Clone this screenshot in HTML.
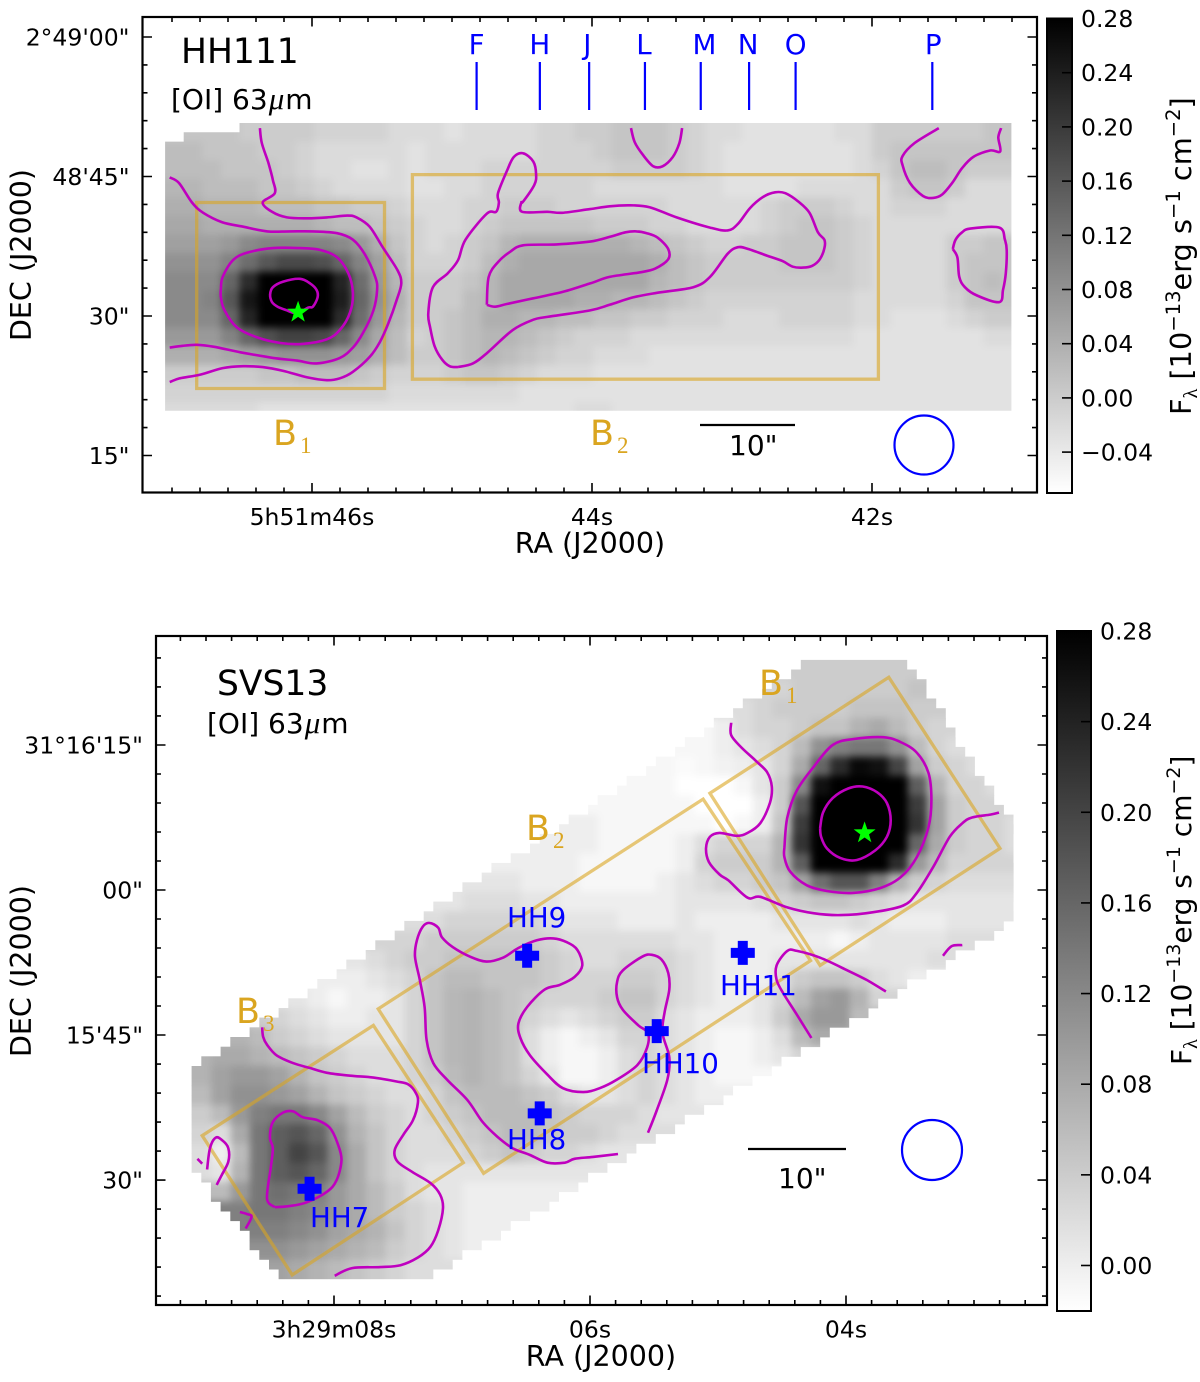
<!DOCTYPE html>
<html lang="en">
<head>
<meta charset="utf-8">
<title>HH111 and SVS13 [OI] 63 micron maps</title>
<style>
html,body{margin:0;padding:0;background:#fff}
svg{display:block;font-family:"DejaVu Sans","Liberation Sans",sans-serif}
.serif{font-family:"Liberation Serif",serif}
.gold{fill:#daa520}
.blue{fill:#0000ff}
</style>
</head>
<body>
<svg id="figure" xmlns="http://www.w3.org/2000/svg" width="1200" height="1382" viewBox="0 0 1200 1382">
  <defs>
    <filter id="smooth" filterUnits="userSpaceOnUse" x="0" y="0" width="1200" height="1382" color-interpolation-filters="sRGB">
      <feGaussianBlur stdDeviation="3.6"/>
    </filter>
    <linearGradient id="grayTop" x1="0" y1="0" x2="0" y2="1">
      <stop offset="0" stop-color="#000"/><stop offset="1" stop-color="#fff"/>
    </linearGradient>
    <clipPath id="clip-hh111"></clipPath>
    <clipPath id="clip-svs13"></clipPath>
  </defs>

  <g id="panel-hh111">
    <g id="hh111-map" clip-path="url(#clip-hh111)"><g id="hh111-cells" filter="url(#smooth)"></g></g>
    <g id="hh111-marks"></g>
    <g id="hh111-axes"></g>
    <text x="181" y="63" font-size="34.5">HH111</text>
    <text x="171" y="109" font-size="28">[OI] 63<tspan class="serif" font-style="italic" font-size="31" dx="1">μ</tspan><tspan dx="1">m</tspan></text>
    <text class="gold" x="273" y="445" font-size="35">B<tspan class="serif" dx="3" dy="8" font-size="23">1</tspan></text>
    <text class="gold" x="590" y="445" font-size="35">B<tspan class="serif" dx="3" dy="8" font-size="23">2</tspan></text>
    <line x1="700" y1="425" x2="795" y2="425" stroke="#000" stroke-width="2.2"/>
    <text x="729" y="455" font-size="28">10"</text>
    <circle cx="924" cy="445" r="29.5" fill="none" stroke="#0000ff" stroke-width="2.2"/>
    <text x="590" y="553" font-size="28.5" text-anchor="middle">RA (J2000)</text>
    <text transform="translate(31,255) rotate(-90)" font-size="28.5" text-anchor="middle">DEC (J2000)</text>
    <rect x="1047" y="18.5" width="25" height="474.5" fill="url(#grayTop)" stroke="#000" stroke-width="2"/>
    <g id="hh111-colorbar-ticks"></g>
    <text transform="translate(1191,415) rotate(-90)" font-size="28.8">F<tspan class="serif" font-size="20" dy="6">λ</tspan><tspan dy="-6"> [10</tspan><tspan font-size="19.5" dy="-11">−13</tspan><tspan dy="11">erg s</tspan><tspan font-size="19.5" dy="-11">−1</tspan><tspan dy="11"> cm</tspan><tspan font-size="19.5" dy="-11">−2</tspan><tspan dy="11">]</tspan></text>
  </g>

  <g id="panel-svs13">
    <g id="svs13-map" clip-path="url(#clip-svs13)"><g id="svs13-cells" filter="url(#smooth)"></g></g>
    <g id="svs13-marks"></g>
    <g id="svs13-axes"></g>
    <text x="217" y="695" font-size="34.5">SVS13</text>
    <text x="207" y="733" font-size="28">[OI] 63<tspan class="serif" font-style="italic" font-size="31" dx="1">μ</tspan><tspan dx="1">m</tspan></text>
    <text class="gold" x="759" y="695" font-size="35">B<tspan class="serif" dx="3" dy="8" font-size="23">1</tspan></text>
    <text class="gold" x="526" y="840" font-size="35">B<tspan class="serif" dx="3" dy="8" font-size="23">2</tspan></text>
    <text class="gold" x="236" y="1023" font-size="35">B<tspan class="serif" dx="3" dy="8" font-size="23">3</tspan></text>
    <text class="blue" x="507" y="927" font-size="27.7">HH9</text>
    <text class="blue" x="507" y="1149" font-size="27.7">HH8</text>
    <text class="blue" x="642" y="1073" font-size="27.7">HH10</text>
    <text class="blue" x="720" y="995" font-size="27.7">HH11</text>
    <text class="blue" x="310" y="1227" font-size="27.7">HH7</text>
    <line x1="748" y1="1149" x2="846" y2="1149" stroke="#000" stroke-width="2.2"/>
    <text x="778" y="1188" font-size="28">10"</text>
    <circle cx="932" cy="1150" r="30" fill="none" stroke="#0000ff" stroke-width="2.2"/>
    <text x="601" y="1366" font-size="28.5" text-anchor="middle">RA (J2000)</text>
    <text transform="translate(31,971) rotate(-90)" font-size="28.5" text-anchor="middle">DEC (J2000)</text>
    <rect x="1057" y="631" width="34" height="680" fill="url(#grayTop)" stroke="#000" stroke-width="2"/>
    <g id="svs13-colorbar-ticks"></g>
    <text transform="translate(1191,1065) rotate(-90)" font-size="28">F<tspan class="serif" font-size="20" dy="6">λ</tspan><tspan dy="-6"> [10</tspan><tspan font-size="19" dy="-11">−13</tspan><tspan dy="11">erg s</tspan><tspan font-size="19" dy="-11">−1</tspan><tspan dy="11"> cm</tspan><tspan font-size="19" dy="-11">−2</tspan><tspan dy="11">]</tspan></text>
  </g>
</svg>

<script>
// ---------- HH111 data (flux in 0.01 x 10^-13 units, map cells 2 arcsec) ----------
const hh111Flux = [
[1,1,1,1,0,0,0,0,-1,-1,-1,-1,-2,-2,-2,-3,-2,-2,-2,-2,-1,-1,0,0,1,1,1,0,-1,-2,-2,-3,-3,-3,-3,-3,-2,-2,0,0,0,0,0,0,1,1],
[2,2,1,1,1,0,0,-1,-2,-2,-2,-2,-2,-3,-2,-2,-2,-2,-2,-2,-1,-1,-1,0,1,1,1,0,-1,-2,-3,-3,-3,-3,-3,-3,-3,-2,0,1,1,1,1,1,1,1],
[2,2,2,1,1,1,0,-1,-2,-2,-3,-3,-2,-3,-2,-2,-2,-1,-1,-1,-1,-1,-1,-1,0,0,0,0,-1,-2,-3,-3,-3,-3,-3,-3,-3,-2,-1,1,2,2,1,0,0,0],
[3,3,2,2,2,1,1,0,-1,-2,-2,-2,-2,-3,-3,-2,-2,-1,-1,-1,-1,-1,-1,-2,-2,-2,-2,-2,-2,-2,-3,-3,-3,-3,-2,-2,-2,-2,-2,0,1,1,0,-2,-2,-2],
[4,4,3,3,3,2,2,2,1,1,0,0,-1,-2,-2,-2,-1,-1,0,0,0,-1,-1,-1,-1,-1,-1,-2,-2,-2,-2,-2,-1,0,0,0,-1,-2,-2,-1,-1,-1,-2,-2,-2,-2],
[5,5,4,4,4,4,4,4,3,2,2,1,0,-1,-2,-2,-1,0,1,1,1,1,1,0,0,0,-1,-1,-2,-2,-2,-2,-1,0,1,1,0,-1,-2,-2,-2,-2,-2,-2,-2,-2],
[6,6,6,7,9,10,10,10,10,9,7,4,1,-1,-2,-1,0,1,3,4,4,4,4,4,4,3,2,1,0,-1,-1,0,0,1,1,1,0,-1,-2,-2,-2,-2,0,0,1,1],
[8,8,8,10,13,16,18,18,17,14,10,6,2,-1,-1,-1,0,2,4,5,5,5,5,5,5,5,4,2,1,0,0,0,0,1,1,1,0,-1,-2,-2,-2,-2,0,1,1,1],
[9,9,9,14,22,28,31,31,30,23,13,7,3,0,0,0,1,3,5,5,5,5,5,5,5,5,3,2,1,0,0,0,0,0,0,0,0,-1,-2,-2,-2,-2,0,1,2,1],
[9,9,10,16,25,30,32,32,31,24,14,8,4,0,0,0,2,3,5,5,5,5,4,4,3,3,2,1,0,-1,-1,-1,-1,-1,-1,-1,-1,-2,-2,-2,-2,-2,-1,1,1,1],
[9,9,9,14,23,29,31,31,30,22,13,7,3,0,0,1,2,4,4,3,3,2,2,1,1,0,0,-1,-1,-1,-2,-2,-2,-1,-1,-1,-1,-2,-2,-3,-3,-3,-2,-1,0,0],
[7,7,7,10,14,17,19,19,18,14,9,5,2,-1,0,1,2,3,3,2,1,0,-1,-1,-1,-2,-2,-2,-2,-2,-2,-2,-2,-2,-2,-2,-2,-3,-3,-3,-3,-3,-3,-3,-2,-2],
[4,4,4,5,6,7,8,8,8,7,6,4,2,0,0,1,2,3,2,1,0,-1,-1,-2,-2,-2,-3,-3,-3,-3,-3,-3,-3,-3,-3,-3,-3,-3,-3,-3,-3,-3,-3,-3,-3,-3],
[0,0,0,0,0,1,1,2,2,2,1,0,-1,-1,-1,0,1,1,0,-1,-2,-2,-2,-3,-3,-3,-3,-3,-3,-3,-3,-3,-3,-3,-3,-3,-3,-3,-3,-3,-3,-3,-3,-3,-3,-3],
[-1,-1,-1,-1,-1,-1,-1,-1,-1,-1,-1,-1,-2,-2,-2,-2,-2,-2,-2,-3,-3,-3,-3,-3,-3,-3,-3,-3,-3,-3,-3,-3,-3,-3,-3,-3,-3,-3,-3,-3,-3,-3,-3,-3,-3,-3],
[-2,-2,-2,-2,-2,-3,-3,-3,-3,-3,-3,-3,-3,-3,-3,-3,-3,-3,-3,-3,-3,-3,-2,-2,-3,-3,-3,-3,-3,-3,-3,-3,-3,-3,-3,-3,-3,-3,-3,-3,-3,-3,-3,-3,-3,-3]
];
// contour vertices: [arcsec west of the 46s meridian, arcsec north of the 30" parallel]
const hh111ContourOuter = [[-5.6,20.2],[-5.4,18.6],[-4.7,16.5],[-4.2,14.6],[-4,13.2],[-5.3,12.2],[-4.3,11.2],[-2.7,10.6],[-.5,10.5],[1.6,10.6],[3.8,10.8],[4.8,10.6],[6.2,9.6],[7.6,7.4],[9.2,4.9],[9.6,3.5],[9.1,1.7],[8.2,-.8],[7.3,-2.8],[6.2,-4.4],[4.4,-6],[3,-6.7],[1.6,-6.9],[-.5,-6.6],[-3.1,-5.9],[-5.3,-5.5],[-7.4,-5.4],[-9.6,-5.6],[-12,-6.3],[-14.2,-6.7],[-15.3,-7.1]];
const hh111ContourMiddle = [[-15.3,14.9],[-14.3,14.3],[-12.9,12.2],[-11.7,11.1],[-9.7,10.1],[-7.4,9.6],[-4.8,9.1],[-2.4,9.1],[.1,9.1],[2.7,8.9],[4.4,8.2],[5.7,6.6],[6.8,4.2],[7,2.8],[6.6,.6],[5.5,-1.8],[4.4,-3.4],[3,-4.5],[.5,-5.1],[-1.6,-4.8],[-4.2,-4.5],[-7.7,-3.9],[-10.6,-3.3],[-12.4,-3.1],[-13.9,-3.2],[-15.3,-3.4]];
const hh111ContourCore = [[-9.8,3],[-9.6,4.2],[-8.5,6],[-7,6.8],[-4.2,7.3],[-1.3,7.3],[.9,7.1],[2.7,6.3],[3.9,4.6],[4.4,2.5],[4.1,.4],[3,-1.5],[1.6,-2.5],[-1,-3],[-3.4,-2.9],[-5.9,-2.3],[-8.1,-1.2],[-9.4,.6],[-9.8,2],[-9.8,3]];
const hh111ContourPeak = [[-2.7,.6],[-3.7,1],[-4.3,1.5],[-4.5,2.3],[-4.2,3.1],[-3.1,3.7],[-1.3,4],[-.2,3.5],[.5,2.8],[.6,2],[.1,1],[-.4,.9],[-1.6,.3],[-2.7,.6]];
const hh111ContourJet = [[15.7,-5.5],[14.8,-5.4],[14,-4.7],[13.2,-3.3],[12.7,-1.2],[12.5,.3],[13,3.1],[14.6,4.6],[15.7,6],[16.5,8.2],[18.8,11],[19.8,11.2],[20.1,12.2],[20,13.2],[21,15.7],[21.7,17.1],[22.7,17.5],[23.8,16.6],[24.1,15.2],[23.9,14.1],[22.7,12.3],[22.5,12.2],[22.6,11.2],[25.3,11.2],[26.9,11.1],[29.9,11.5],[32,11.8],[34.2,11.9],[36.3,11.7],[39.2,10.6],[42.8,9.5],[44.7,9.2],[45.8,9.9],[47.1,11.6],[48.5,12.8],[49.8,13.3],[50.9,13.2],[52.3,12.3],[53.5,11.1],[54.4,9],[55.1,8.2],[55.1,7.3],[54.6,6.1],[53.8,5.4],[52.8,5.2],[51.7,5.3],[50.6,5.9],[48.9,6.5],[46.9,7.2],[45.8,7.4],[44.7,6.7],[42.8,4.2],[41,3.1],[37.1,2.5],[34.5,2],[32,1.2],[29.9,.6],[25.3,-.1],[23.8,-.4],[21.6,-1.5],[18.8,-4],[17.3,-5.1],[15.7,-5.5]];
const hh111ContourJetInner = [[18.8,1.2],[19,4.2],[20,5.8],[21.3,6.9],[22.7,7.6],[26.3,7.7],[29.9,8],[32,8.5],[33.7,9],[34.9,9.1],[36,8.9],[37.2,8.4],[38.3,7.2],[38.3,6.1],[36.9,5.1],[35.3,4.7],[32,4.2],[29.9,3.5],[27,2.6],[23.8,1.9],[21,1.3],[19.7,1],[18.8,1.2]];
const hh111ContourTop = [[34.3,20.2],[34.7,18.7],[35.6,17.3],[36.7,16.1],[37.7,16.1],[38.8,17.1],[39.5,18.6],[39.8,20.2]];
const hh111ContourEast = [[67.4,20.2],[64.8,18.6],[63.5,17.2],[63.5,16.2],[64.3,14.3],[65.7,12.9],[66.8,12.7],[67.8,13.1],[68.9,14.4],[69.9,15.9],[71.1,17.1],[72.9,17.8],[74,17.7],[73.8,19.2],[74.1,20.2]];
const hh111ContourBlob = [[68.9,7.2],[69.2,8.2],[69.9,9],[70.8,9.4],[73.9,9.5],[74.5,8.2],[74.7,7.1],[74.6,4.6],[74.3,2.8],[73.9,1.5],[71.5,2.2],[70.2,3.1],[69.6,4.2],[69.4,6.3],[68.9,7.2]];
const hh111Contours = [hh111ContourOuter,hh111ContourMiddle,hh111ContourCore,hh111ContourPeak,hh111ContourJet,hh111ContourJetInner,hh111ContourTop,hh111ContourEast,hh111ContourBlob];
const hh111BoxB1 = [[-12.4,12.2],[7.8,12.2],[7.8,-7.8],[-12.4,-7.8]];
const hh111BoxB2 = [[10.8,15.2],[60.9,15.2],[60.9,-6.8],[10.8,-6.8]];
const hh111Boxes = [hh111BoxB1,hh111BoxB2];
const hh111Star = [-1.5,.4];
const hh111Footprint = [[-15.8,18.7],[-13.8,18.7],[-13.8,19.7],[-7.7,19.7],[-7.7,20.75],[75.4,20.75],[75.4,-10.2],[-15.8,-10.2]];
const hh111KnotNames = ["F","H","J","L","M","N","O","P"];
const hh111KnotOffsets = [17.7,24.5,29.8,35.8,41.8,47,52,66.7];
const hh111KnotLabelOffsets = [17.7,24.5,29.6,35.7,42.2,46.9,52,66.8];
const hh111RaTicks = [46,44,42];
const hh111RaLabels = ["5h51m46s","44s","42s"];
const hh111DecTicks = [30,15,0,-15];
const hh111DecLabels = ["2°49'00\"","48'45\"","30\"","15\""];
const hh111BarTicks = [0.24,0.20,0.16,0.12,0.08,0.04,0.00,-0.04];
const hh111BarLabels = ["0.24","0.20","0.16","0.12","0.08","0.04","0.00","−0.04"];

// ---------- SVS13 data ----------
const svs13FirstColumn = [31,30,28,26,25,23,21,20,19,17,16,14,13,11,10,8,6,5,3,2,0,0,0,0,0,0,0,1,2,3,3,4];
const svs13Flux = [
[4,4,4,4,4,4],
[3,4,4,4,4,4,4,5],
[2,3,4,4,4,4,5,5,5,4,4],
[-1,0,2,3,3,4,5,5,7,8,6,4,3],
[-1,-1,0,1,2,3,6,11,13,14,14,11,6,3,2],
[-1,-1,-1.5,-1,-.5,0,1,3,8,16,23,27,26,20,9,4,3,2],
[-1,-1,-1,-1,-2,-2,-2,-1,1,4,12,26,31,32,31,28,17,7,3,3,2],
[-1,-1,-1,-1,-1,-1,-2,-2,-2,0,4,18,31,33,33,33,31,21,9,4,3,3],
[0,0,-1,-1,-1,-1,-1,-1,-2,-1,0,5,21,32,33,33,33,32,22,9,4,3,3,2],
[0,0,0,0,-1,-1,-1,-1,0,2,3,3,3,7,22,32,33,33,33,30,16,8,4,3,3,2],
[0,0,0,0,-1,-1,-1,-1,-1,0,3,4,4,4,7,17,29,32,32,31,23,10,6,3,3,3,3],
[1,1,1,0,0,0,-1,-1,-1,-1,0,1,2,3,3,4,5,9,15,18,18,13,7,4,3,2,2,2,2],
[1,2,2,2,1,1,0,0,0,0,0,0,1,1,1,1,2,3,4,5,5,4,3,2,1,1,1,1,1,1],
[2,2,3,3,3,3,3,2,1,1,1,0,0,0,1,0,0,0,0,1,1,1,1,2,1,0,0,0,1,1,1,1],
[3,3,4,4,4,4,4,4,3,2,2,2,2,2,2,1,1,0,0,0,0,0,0,-1,0,1,1,1,1,2],
[1,2,3,4,4,5,5,5,5,5,4,3,2,2,3,3,3,2,1,0,0,0,1,1,1,1,1,1,1,1,2],
[0,0,0,1,2,3,5,6,6,5,5,5,4,3,3,3,4,4,3,2,1,0,0,0,2,4,5,5,4,2,1,0],
[1,0,-1,0,0,1,3,5,6.5,7,6,5,4,3,3,3,4,5,5,3,2,1,0,0,1,3,6,9,10,7,3],
[4,3,2,1,0,0,1,1,3,5,6.5,7,6,5,3,2,1,2,3,4,4,2,1,0,0,0,1,4,8,10,10,6],
[7,6,4,3,2,1,1,1,1,3,5,6.5,7,6,5,2,0,-1,0,1,3,3,2,1,0,-1,-1,0,2,6,8,8],
[7,8,8,7,6,5,4,3,2,2,2,3,5,6.5,7,6,5,2,0,-1,-1,0,2,3,2,1,0,-1,-1,0,1,3],
[7,9,10,10,9,7,5,4,3,2,2,3,4,6,7,6,5,3,1,-1,-1,0,2,3,2,1,0,-1],
[6,9,11,11,10,9,7,5,4,3,2,2,3,5,6,6,6,5,4,2,1,1,2,3,2,1,0],
[4,6,10,13,14,14,12,9,6,4,3,2,3,4,5,6,6,6,5,4,3,3,3,2,1],
[3,2,8,14,17,18,16,11,7,5,3,2,2,3,4,5,6,6,5,4,4,3,2],
[2,0,6,14,17,20,18,12,8,5,3,2,2,2,3,4,5,4,3,3,2,1],
[2,1,7,14,17,18,16,12,8,5,3,2,1,1,1,1,1,1,1],
[6,10,14,15,14,13,10,8,6,4,2,1,1,0,0,0,0],
[13,14,14,13,12,10,8,6,4,3,2,1,0,0,0],
[13,13,12,11,9,8,7,5,3,2,1,0,0],
[11,11,10,9,8,7,6,4,3,2,1,0],
[9,8,7,6,5,4,3,2]
];
// contour vertices: [arcsec west of the 06s meridian, arcsec north of the 16'00" parallel]
const svs13ContourB3 = [[-33.9,-14.2],[-33.8,-15.2],[-33.4,-16],[-32.4,-17.1],[-30.7,-17.9],[-29,-18.4],[-27.2,-18.9],[-24.8,-19.2],[-22.4,-19.4],[-20,-19.8],[-18.8,-20.1],[-18,-21],[-17.8,-22],[-18.3,-23.8],[-19.3,-25.3],[-20.2,-26.9],[-19.9,-28.1],[-18.3,-29.2],[-16.5,-30.3],[-15.5,-31.5],[-15.2,-32.9],[-15.7,-35.2],[-16.5,-36.9],[-17.8,-38],[-19.6,-38.8],[-21.7,-39],[-24.6,-39.1],[-26.4,-39.9]];
const svs13ContourHH7 = [[-32.6,-32.8],[-33.4,-31.9],[-33,-28.6],[-32.8,-26.7],[-33.1,-25.6],[-32.8,-24],[-31.7,-23],[-30.7,-22.9],[-29.7,-23.5],[-28.2,-23.8],[-26.9,-24.6],[-26.1,-26.2],[-25.7,-27.9],[-26.2,-30],[-27.2,-31.2],[-29.3,-32.3],[-31.2,-32.7],[-32.6,-32.8]];
const svs13ContourWest = [[-39.6,-28.9],[-39.3,-26.7],[-38.7,-25.6],[-38,-25.9],[-37.4,-26.7],[-37.4,-28.1],[-38.1,-29.5],[-38.6,-30.5]];
const svs13ContourDash = [[-40.6,-27.8],[-40.1,-28.3]];
const svs13ContourHook = [[-36.2,-33.3],[-35.5,-33.5],[-35,-33.8],[-35.6,-35]];
const svs13ContourCentral = [[2.9,-27.3],[.3,-27.6],[-1.6,-27.8],[-2.6,-28.2],[-4.4,-28.2],[-6.2,-27.4],[-8,-26.7],[-9.6,-25.5],[-11.1,-24],[-12.7,-21.7],[-14.8,-19.6],[-16.2,-17.9],[-16.9,-15.5],[-17.1,-12.1],[-17.6,-9.3],[-18.1,-6.9],[-17.9,-5.2],[-17.3,-3.8],[-16.6,-3.4],[-15.7,-3.9],[-15.3,-4.9],[-14.2,-5.9],[-12.4,-6.9],[-10.7,-7.4],[-9,-7],[-7.4,-6],[-5.5,-5.2],[-3.8,-5],[-2.4,-5.4],[-1.3,-6.2],[-.8,-7.8],[-1.6,-9],[-3.1,-9.8],[-4.7,-10.3],[-6.5,-12.1],[-7.4,-13.8],[-7.2,-15.3],[-6.2,-17.1],[-4.4,-19.1],[-2.8,-20.5],[-.7,-20.9],[1,-20.5],[2.8,-19.6],[4.9,-18.1],[5.9,-16.3],[6,-14.8],[5,-14],[3.4,-12.4],[2.8,-11.1],[2.8,-9.5],[3.4,-8.3],[5.4,-6.9],[6.4,-6.7],[7.4,-7.2],[8.1,-8.6],[8.2,-10.3],[7.7,-12.7],[7.5,-14.8],[8.2,-17.3],[8,-19.6],[6.9,-22.8],[6,-25.1]];
const svs13ContourOuter = [[14.6,17.3],[14.6,16],[15.7,14.7],[17.1,13.4],[18.3,12.2],[18.8,10.7],[18.6,9],[17.6,6.9],[16.3,5.9],[15.2,5.6],[13.4,5.9],[12.4,5.5],[12,4.3],[12.3,2.9],[13.4,1.6],[14.3,1],[16.3,-.8],[17.6,-.7],[20.4,-1.8],[23.1,-2.4],[25.9,-2.6],[29.3,-2.3],[32.4,-1.6],[33.8,-.3],[35.5,2.4],[37.2,5.5],[38.5,6.9],[39.5,7.5],[41.4,7.8],[42.3,8]];
const svs13ContourMiddle = [[20.1,4.4],[20.4,7.5],[21.4,10.3],[23.1,12.7],[25.1,15],[27.2,15.6],[30.3,15.8],[32.1,15.3],[33.8,14.2],[35,12.1],[35.3,9.3],[35,6.5],[33.8,3.4],[32.1,1.3],[30,.2],[27.2,-.3],[24.5,-.1],[22.4,.5],[20.7,1.9],[20.1,3.4],[20.1,4.4]];
const svs13ContourInner = [[23.8,6.4],[24.1,8],[25.1,9.5],[26.7,10.5],[28.2,10.7],[29.7,10.1],[30.7,9],[31.1,7.2],[30.7,5.5],[29.5,4.1],[27.6,3.1],[25.9,3.3],[24.5,4.3],[23.9,5.5],[23.8,6.4]];
const svs13ContourSouth = [[22.9,-15.3],[21.4,-12.9],[20,-10.7],[19.3,-9.3],[19.3,-7.8],[20.4,-6.3],[21.4,-6.3],[23.8,-7],[26.6,-8.3],[28.6,-9.3],[30.6,-10.5]];
const svs13ContourTiny = [[36.5,-6.8],[37.4,-5.8],[38.5,-5.7]];
const svs13Contours = [svs13ContourB3,svs13ContourHH7,svs13ContourWest,svs13ContourDash,svs13ContourHook,svs13ContourCentral,svs13ContourOuter,svs13ContourMiddle,svs13ContourInner,svs13ContourSouth,svs13ContourTiny];
const svs13BoxB1 = [[30.9,22],[42.4,4.3],[23.8,-7.8],[12.4,10]];
const svs13BoxB2 = [[11.7,9.4],[22.8,-7.3],[-11,-29.3],[-21.9,-12.3]];
const svs13BoxB3 = [[-22.4,-14],[-13.1,-28.2],[-30.8,-39.8],[-40.1,-25.4]];
const svs13Boxes = [svs13BoxB1,svs13BoxB2,svs13BoxB3];
const svs13Star = [28.4,5.9];
const svs13KnotNames = ["hh9","hh8","hh10","hh11","hh7"];
const svs13KnotRa = [-6.5,-5.2,6.9,15.8,-29];
const svs13KnotDec = [-6.8,-23.1,-14.6,-6.5,-30.9];
const svs13Footprint = [[-41.2,-18.4],[23,23.8],[32.9,23.8],[43.8,6.6],[43.8,-3.3],[-17.2,-40.3],[-32.2,-40.3],[-41.2,-28.4]];
const svs13RaTicks = [8,6,4];
const svs13RaLabels = ["3h29m08s","06s","04s"];
const svs13DecTicks = [-30,-15,0,15];
const svs13DecLabels = ["30\"","15'45\"","00\"","31°16'15\""];
const svs13BarTicks = [0.24,0.20,0.16,0.12,0.08,0.04,0.00];
const svs13BarLabels = ["0.24","0.20","0.16","0.12","0.08","0.04","0.00"];

const SVGNS = "http://www.w3.org/2000/svg";
function mk(tag, parent, attrs){
  const el = document.createElementNS(SVGNS, tag);
  for (const k in attrs) el.setAttribute(k, attrs[k]);
  parent.appendChild(el);
  return el;
}

function makePanel(o){
  o.xOff = a => o.x0 + a*o.scale;
  o.yOff = d => o.y0 - d*o.scale;
  o.xRa  = s => o.x0 + (o.raRef - s)*o.pxPerSec;
  o.yBar = v => o.barTop + (o.barMax - v)*o.barPxPerUnit;
  o.gray = v => {
    const g = Math.round(255*Math.min(1,Math.max(0,(o.barMax - v/100)/(o.barMax - o.barMin))));
    return "rgb("+g+","+g+","+g+")";
  };
  return o;
}

function drawHeatmap(p, rows, firstCols){
  const group = document.getElementById(p.id+"-cells");
  const cell = p.cellArcsec*p.scale;
  const nCols = p.nCols;
  rows.forEach((row,i)=>{
    const first = firstCols ? firstCols[i] : 0;
    for (let j=0;j<nCols;j++){
      const k = Math.min(Math.max(j-first,0),row.length-1);
      let x = p.xOff(p.mapLeft + j*p.cellArcsec), y = p.yOff(p.mapTop - i*p.cellArcsec);
      let w = cell+0.6, h = cell+0.6;
      if (j===0){ x-=24; w+=24; }
      if (j===nCols-1){ w+=24; }
      if (i===0){ y-=24; h+=24; }
      if (i===rows.length-1){ h+=24; }
      const r = mk("rect", group, {x:x.toFixed(1), y:y.toFixed(1), width:w.toFixed(1), height:h.toFixed(1), fill:p.gray(row[k])});
      
      
    }
  });
}

function drawClip(p, outline){
  const clip = document.getElementById("clip-"+p.id);
  const tops = outline.map(q=>q[1]);
  const decTop = Math.max.apply(null,tops), decBot = Math.min.apply(null,tops);
  const lefts = outline.map(q=>q[0]);
  const raLeft = Math.min.apply(null,lefts);
  for (let d=decTop; d>decBot+0.01; d-=1){
    const mid = d-0.5; let lo=Infinity, hi=-Infinity;
    outline.forEach((q,n)=>{
      const b = outline[(n+1)%outline.length];
      if ((q[1]-mid)*(b[1]-mid)<=0 && q[1]!==b[1]){
        const a = q[0]+(mid-q[1])*(b[0]-q[0])/(b[1]-q[1]);
        lo=Math.min(lo,a); hi=Math.max(hi,a);
      }
    });
    if (lo===Infinity) continue;
    lo = raLeft+Math.round(lo-raLeft); hi = raLeft+Math.round(hi-raLeft);
    mk("rect", clip, {x:p.xOff(lo).toFixed(1), y:p.yOff(d).toFixed(1), width:((hi-lo)*p.scale).toFixed(1), height:Math.min(p.scale+0.4,(d-decBot)*p.scale).toFixed(1)});
  }
}

function polyPoints(p, pts){ return pts.map(q=>p.xOff(q[0]).toFixed(1)+","+p.yOff(q[1]).toFixed(1)).join(" "); }

function smoothPath(p, pts){
  const P = pts.map(q=>[p.xOff(q[0]),p.yOff(q[1])]);
  let d = "M"+P[0][0].toFixed(1)+" "+P[0][1].toFixed(1);
  for (let i=0;i<P.length-1;i++){
    const a = P[Math.max(i-1,0)], b = P[i], c = P[i+1], e = P[Math.min(i+2,P.length-1)];
    const c1x = b[0]+(c[0]-a[0])/6, c1y = b[1]+(c[1]-a[1])/6;
    const c2x = c[0]-(e[0]-b[0])/6, c2y = c[1]-(e[1]-b[1])/6;
    d += "C"+c1x.toFixed(1)+" "+c1y.toFixed(1)+" "+c2x.toFixed(1)+" "+c2y.toFixed(1)+" "+c[0].toFixed(1)+" "+c[1].toFixed(1);
  }
  return d;
}

function drawBoxes(p, boxes){
  const g = document.getElementById(p.id+"-marks");
  boxes.forEach((b)=>{
    const el = mk("polygon", g, {points:polyPoints(p,b), fill:"none", stroke:"#daa520", "stroke-opacity":"0.6", "stroke-width":"3.3"});
    
    
  });
}

function drawContours(p, contours){
  const g = document.getElementById(p.id+"-marks");
  contours.forEach((c)=>{
    const el = mk("path", g, {d:smoothPath(p,c), fill:"none", stroke:"#bf00bf", "stroke-width":"2.6", "stroke-linejoin":"round", "stroke-linecap":"butt"});
    
    
  });
}

function drawStar(p, pos){
  const g = document.getElementById(p.id+"-marks");
  const cx = p.xOff(pos[0]), cy = p.yOff(pos[1]);
  const pts = [];
  for (let n=0;n<10;n++){
    const r = n%2 ? 4.6 : 11.5, t = -Math.PI/2 + n*Math.PI/5;
    pts.push((cx+r*Math.cos(t)).toFixed(1)+","+(cy+r*Math.sin(t)).toFixed(1));
  }
  const el = mk("polygon", g, {points:pts.join(" "), fill:"#00ff00"});
  
  
}

function drawKnotPluses(p, ras, decs, names){
  const g = document.getElementById(p.id+"-marks");
  ras.forEach((a,i)=>{
    const cx = p.xOff(a), cy = p.yOff(decs[i]), L = 12, w = 5;
    const d = "M"+(cx-w)+" "+(cy-L)+"h"+(2*w)+"v"+(L-w)+"h"+(L-w)+"v"+(2*w)+"h"+(w-L)+"v"+(L-w)+"h"+(-2*w)+"v"+(w-L)+"h"+(w-L)+"v"+(-2*w)+"h"+(L-w)+"z";
    const el = mk("path", g, {d:d, fill:"#0000ff"});
    
    
  });
}

function drawKnotTicks(p, offsets, labelOffsets, names){
  const g = document.getElementById(p.id+"-marks");
  offsets.forEach((a,i)=>{
    const x = p.xOff(a);
    const ln = mk("line", g, {x1:x, x2:x, y1:62, y2:110, stroke:"#0000ff", "stroke-width":"2.2"});
    
    
    const t = mk("text", g, {x:p.xOff(labelOffsets[i]), y:54, "font-size":"27.7", "text-anchor":"middle", fill:"#0000ff"});
    t.textContent = names[i];
    
    
  });
}

function drawAxes(p, raTicks, raLabels, decTicks, decLabels){
  const g = document.getElementById(p.id+"-axes");
  const f = p.frame;
  const frame = mk("rect", g, {x:f.l, y:f.t, width:f.r-f.l, height:f.b-f.t, fill:"none", stroke:"#000", "stroke-width":"2.2"});
  
  
  let d = "";
  // RA minor ticks every 0.2 s, majors at the labelled ticks
  for (let s=raTicks[0]+2; s>=raTicks[raTicks.length-1]-2; s-=0.2){
    const x = p.xRa(s);
    if (x<f.l+2||x>f.r-2) continue;
    const major = raTicks.some(v=>Math.abs(v-s)<0.01);
    const L = major?9.5:5;
    d += "M"+x.toFixed(1)+" "+f.b+"v"+(-L)+"M"+x.toFixed(1)+" "+f.t+"v"+L;
  }
  // DEC minor ticks every 3 arcsec
  for (let a=decTicks[0]-45; a<=decTicks[0]+90; a+=3){
    const y = p.yOff(a);
    if (y<f.t+2||y>f.b-2) continue;
    const major = decTicks.indexOf(a)>=0;
    const L = major?9.5:5;
    d += "M"+f.l+" "+y.toFixed(1)+"h"+L+"M"+f.r+" "+y.toFixed(1)+"h"+(-L);
  }
  const ticks = mk("path", g, {d:d, fill:"none", stroke:"#000", "stroke-width":"1.6"});
  
  
  raTicks.forEach((s,i)=>{
    const t = mk("text", g, {x:p.xRa(s), y:f.b+32.5, "font-size":"23.5", "text-anchor":"middle"});
    t.textContent = raLabels[i];
    
    
  });
  decTicks.forEach((v,i)=>{
    const t = mk("text", g, {x:f.l-13, y:p.yOff(v)+8.5, "font-size":"23.5", "text-anchor":"end"});
    t.textContent = decLabels[i];
    
    
  });
}

function drawBar(p, vals, labels){
  const g = document.getElementById(p.id+"-colorbar-ticks");
  vals.forEach((v,i)=>{
    const y = p.yBar(v);
    const tk = mk("line", g, {x1:p.barRight-10, x2:p.barRight, y1:y, y2:y, stroke:"#000", "stroke-width":"1.6"});
    
    
  });
  vals.concat([p.barMax]).forEach((v,i)=>{
    const t = mk("text", g, {x:p.barRight+9, y:p.yBar(v)+8.5, "font-size":"23.5"});
    t.textContent = i<labels.length ? labels[i] : p.barMax.toFixed(2);
    
    
  });
}

const hh111 = makePanel({id:"hh111", x0:312, y0:316, scale:9.3, raRef:46, pxPerSec:140,
  cellArcsec:2, mapLeft:-15.8, mapTop:20.75, nCols:46,
  barMax:0.28, barMin:-0.07, barTop:18.5, barPxPerUnit:1355, barRight:1072,
  frame:{l:142.5,t:17,r:1037,b:492.5}});
const svs13 = makePanel({id:"svs13", x0:590, y0:890, scale:9.67, raRef:6, pxPerSec:128,
  cellArcsec:2, mapLeft:-41.16, mapTop:23.8, nCols:43,
  barMax:0.28, barMin:-0.02, barTop:631, barPxPerUnit:2266, barRight:1091,
  frame:{l:156,t:636,r:1047,b:1305}});

drawClip(hh111, hh111Footprint);
drawHeatmap(hh111, hh111Flux);
drawBoxes(hh111, hh111Boxes);
drawContours(hh111, hh111Contours);
drawStar(hh111, hh111Star);
drawKnotTicks(hh111, hh111KnotOffsets, hh111KnotLabelOffsets, hh111KnotNames);
drawAxes(hh111, hh111RaTicks, hh111RaLabels, hh111DecTicks, hh111DecLabels);
drawBar(hh111, hh111BarTicks, hh111BarLabels);

drawClip(svs13, svs13Footprint);
drawHeatmap(svs13, svs13Flux, svs13FirstColumn);
drawBoxes(svs13, svs13Boxes);
drawContours(svs13, svs13Contours);
drawStar(svs13, svs13Star);
drawKnotPluses(svs13, svs13KnotRa, svs13KnotDec, svs13KnotNames);
drawAxes(svs13, svs13RaTicks, svs13RaLabels, svs13DecTicks, svs13DecLabels);
drawBar(svs13, svs13BarTicks, svs13BarLabels);
</script>
</body>
</html>
